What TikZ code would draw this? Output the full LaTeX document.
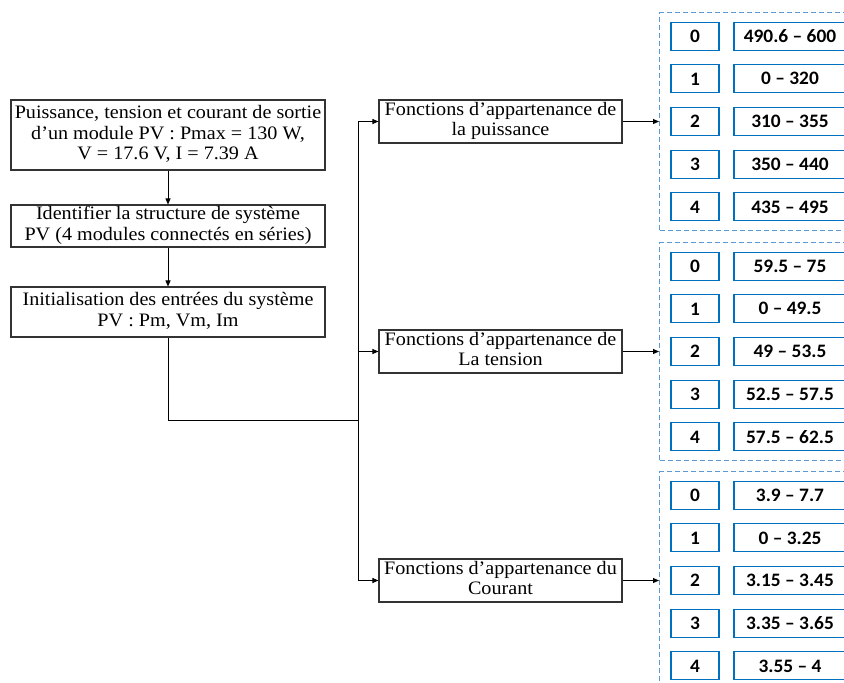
\documentclass[tikz,border=0pt]{standalone}
\usepackage{fontspec}
\usepackage{graphicx}
\setmainfont{Liberation Serif}
\newfontfamily\numfont{Carlito}
\usetikzlibrary{arrows.meta}
\definecolor{boxblue}{RGB}{0,112,192}
\definecolor{dashblue}{RGB}{91,155,213}
% slightly widened multi-line text for the flow boxes
\newcommand\wtext[1]{\scalebox{1.06}[1]{\begin{tabular}{@{}c@{}}#1\end{tabular}}}
\newcommand\ntext[1]{\scalebox{1.02}[1]{#1}}

\begin{document}
\begin{tikzpicture}[x=1pt,y=-1pt,
  stepbox/.style={draw=black!80, line width=1.1pt, fill=white, inner sep=0pt,
    font=\fontsize{19}{20.5}\selectfont},
  idbox/.style={draw=boxblue, line width=1.2pt, minimum width=48pt, minimum height=28pt,
    inner sep=0pt, font=\fontsize{19}{20}\selectfont\numfont\bfseries},
  valbox/.style={idbox, minimum width=112pt},
  group/.style={draw=dashblue, line width=1.2pt, dash pattern=on 5pt off 3pt,
    minimum width=193pt, minimum height=218pt, inner sep=0pt, anchor=west},
  link/.style={line width=0.9pt, -{Triangle[length=6pt,width=5pt]}},
  wire/.style={line width=0.9pt}]

\useasboundingbox (0,0) rectangle (844,683);
\clip (0,0) rectangle (844,683);

% left column: preparation steps
\node[stepbox, minimum width=314pt, minimum height=70pt] (s1) at (168,135)
  {\wtext{Puissance, tension et courant de sortie\\d’un module PV : Pmax = 130 W,\\V = 17.6 V, I = 7.39 A}};
\node[stepbox, minimum width=314pt, minimum height=42pt] (s2) at (168,226)
  {\wtext{Identifier la structure de système\\PV (4 modules connectés en séries)}};
\node[stepbox, minimum width=314pt, minimum height=50pt] (s3) at (168,312)
  {\wtext{Initialisation des entrées du système\\PV : Pm, Vm, Im}};

\draw[link] (s1) -- (s2);
\draw[link] (s2) -- (s3);

% middle column: membership functions
\node[stepbox, minimum width=243pt, minimum height=43pt] (fP) at (500.5,121.5)
  {\wtext{Fonctions d’appartenance de\\la puissance}};
\node[stepbox, minimum width=243pt, minimum height=43pt] (fT) at (500.5,351.5)
  {\wtext{Fonctions d’appartenance de\\La tension}};
\node[stepbox, minimum width=243pt, minimum height=43pt] (fC) at (500.5,580.5)
  {\wtext{Fonctions d’appartenance du\\Courant}};

% distribution trunk
\coordinate (elbow) at (168,420);
\coordinate (join) at (358,420);
\coordinate (tP) at (358,121.5);
\coordinate (tT) at (358,351.5);
\coordinate (tC) at (358,580.5);
\draw[wire] (s3.south) -- (elbow) -- (join);
\draw[wire] (tP) -- (tC);
\draw[link] (tP) -- (fP);
\draw[link] (tT) -- (fT);
\draw[link] (tC) -- (fC);

% right column: fuzzy sets and their ranges
\foreach \g/\c/\vals in {
    P/121.5/{490.6 – 600,0 – 320,310 – 355,350 – 440,435 – 495},
    T/351.5/{59.5 – 75,0 – 49.5,49 – 53.5,52.5 – 57.5,57.5 – 62.5},
    C/580.5/{3.9 – 7.7,0 – 3.25,3.15 – 3.45,3.35 – 3.65,3.55 – 4}} {
  \node[group] (g\g) at (659,\c) {};
  \draw[link] (f\g) -- (g\g);
  \foreach \v [count=\k from 0] in \vals {
    \node[idbox] (n\g\k) at (695,{\c+(\k-2)*42.67}) {\ntext{\k}};
    \node[valbox] (v\g\k) at (790,{\c+(\k-2)*42.67}) {\ntext{\v}};
  }
}
\end{tikzpicture}
\end{document}
